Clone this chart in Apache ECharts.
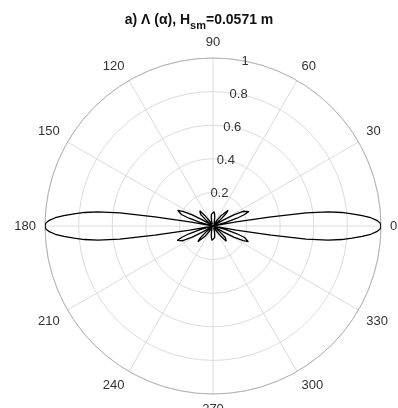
<!DOCTYPE html>
<html>
<head>
<meta charset="utf-8">
<script src="https://cdn.jsdelivr.net/npm/echarts@6/dist/echarts.min.js"></script>
<style>
  html, body { margin: 0; padding: 0; background: #fff; }
  #chart { width: 398px; height: 408px; }
</style>
</head>
<body>
<div id="chart"></div>
<script>
// one quadrant of the pattern (0..90 deg); the plot is symmetric
const quadAngles = [0, 1, 2, 3, 4, 5, 6, 7, 8, 9, 10, 11, 12,
  14, 16, 18, 20, 22, 24, 26, 28, 30, 32, 34,
  37, 40, 43, 46, 49, 52, 55, 58, 62,
  66, 70, 74, 78, 82, 86, 90];
const quadValues = [1.0, 0.995, 0.975, 0.94, 0.89, 0.83, 0.77, 0.69, 0.56, 0.35, 0.14, 0.03, 0.0,
  0.02, 0.08, 0.15, 0.2, 0.23, 0.23, 0.2, 0.14, 0.07, 0.02, 0.0,
  0.01, 0.05, 0.1, 0.13, 0.12, 0.08, 0.04, 0.01, 0.0,
  0.0, 0.01, 0.03, 0.05, 0.07, 0.085, 0.09];
const angleTicks = [0, 30, 60, 90, 120, 150, 180, 210, 240, 270, 300, 330];
const radiusTicks = [0.2, 0.4, 0.6, 0.8, 1];

const font = 'Liberation Sans, Arial, sans-serif';

// mirror the quadrant into the full circle
const pattern = [];
quadAngles.forEach((a, i) => pattern.push([quadValues[i], a]));
for (let i = quadAngles.length - 2; i >= 0; i--) pattern.push([quadValues[i], 180 - quadAngles[i]]);
for (let i = 1; i < quadAngles.length; i++) pattern.push([quadValues[i], 180 + quadAngles[i]]);
for (let i = quadAngles.length - 2; i >= 0; i--) pattern.push([quadValues[i], 360 - quadAngles[i]]);

const chart = echarts.init(document.getElementById('chart'));
chart.setOption({
  backgroundColor: '#ffffff',
  animation: false,
  title: {
    text: '{a|a) Λ (α), H}{s|sm}{a|=0.0571 m}',
    left: 'center',
    top: 5,
    textStyle: {
      rich: {
        a: { fontFamily: font, fontSize: 14, fontWeight: 'bold', color: '#111' },
        s: { fontFamily: font, fontSize: 11, fontWeight: 'bold', color: '#111', padding: [10, 0, 0, 0] }
      }
    }
  },
  polar: [
    { center: [213, 226], radius: 168 },
    { center: [213, 226], radius: 168 }
  ],
  angleAxis: [{
    polarIndex: 0,
    type: 'value',
    min: 0,
    max: 360,
    interval: 30,
    startAngle: 0,
    clockwise: false,
    axisLine: { lineStyle: { color: '#b4b4b4', width: 1 } },
    axisTick: { show: false },
    axisLabel: {
      margin: 9,
      color: '#333',
      fontFamily: font,
      fontSize: 13,
      formatter: v => angleTicks.includes(v) ? String(v) : ''
    },
    splitLine: { lineStyle: { color: '#dcdcdc', width: 1 } }
  }, {
    polarIndex: 1,
    type: 'value',
    min: 0,
    max: 360,
    startAngle: 79,
    clockwise: false,
    axisLine: { show: false },
    axisTick: { show: false },
    axisLabel: { show: false },
    splitLine: { show: false }
  }],
  radiusAxis: [{
    polarIndex: 0,
    min: 0,
    max: 1,
    interval: 0.2,
    axisLine: { show: false },
    axisTick: { show: false },
    axisLabel: { show: false },
    splitLine: { lineStyle: { color: '#dcdcdc', width: 1 } }
  }, {
    polarIndex: 1,
    min: 0,
    max: 1,
    interval: 0.2,
    z: 5,
    axisLine: { show: false },
    axisTick: { show: false },
    splitLine: { show: false },
    axisLabel: {
      margin: 0,
      align: 'center',
      verticalAlign: 'middle',
      color: '#333',
      fontFamily: font,
      fontSize: 13,
      showMinLabel: false,
      formatter: v => radiusTicks.includes(+v.toFixed(1)) ? String(+v.toFixed(1)) : ''
    }
  }],
  series: [{
    type: 'line',
    coordinateSystem: 'polar',
    polarIndex: 0,
    data: pattern,
    symbol: 'none',
    smooth: false,
    lineStyle: { color: '#000', width: 1.3 },
    z: 3
  }]
});
</script>
</body>
</html>
